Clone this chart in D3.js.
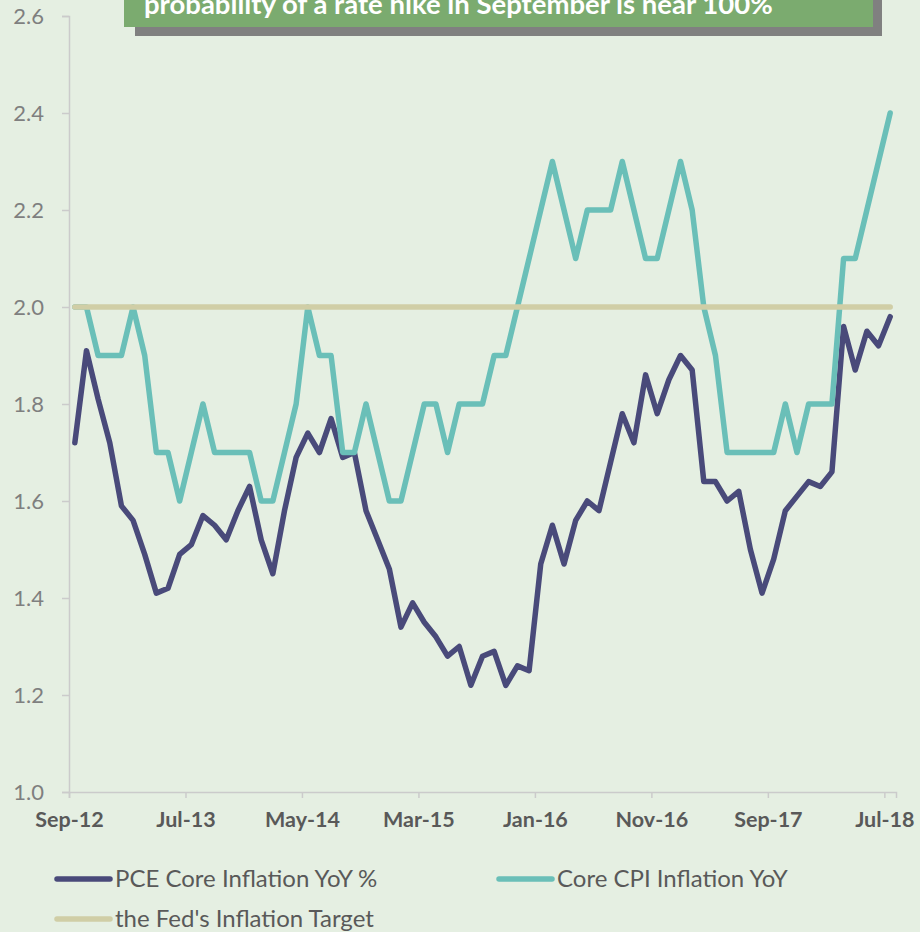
<!DOCTYPE html>
<html>
<head>
<meta charset="utf-8">
<script src="https://cdn.jsdelivr.net/npm/d3@7"></script>
<style>
    body { margin: 0; background: #e5efe2; }
    svg { display: block; }
</style>
</head>
<body>
<svg width="920" height="932"></svg>
<script>
// Month labels shown on the x axis (every 10th month from Sep-12)
var tickLabels = ["Sep-12", "Jul-13", "May-14", "Mar-15", "Jan-16", "Nov-16", "Sep-17", "Jul-18"];
var yTicks = [1.0, 1.2, 1.4, 1.6, 1.8, 2.0, 2.2, 2.4, 2.6];

// Monthly values Sep-12 .. Jul-18 (71 months)
var pceCore = [1.72, 1.91, 1.81, 1.72, 1.59, 1.56, 1.49, 1.41, 1.42, 1.49,
    1.51, 1.57, 1.55, 1.52, 1.58, 1.63, 1.52, 1.45, 1.58, 1.69,
    1.74, 1.70, 1.77, 1.69, 1.70, 1.58, 1.52, 1.46, 1.34, 1.39,
    1.35, 1.32, 1.28, 1.30, 1.22, 1.28, 1.29, 1.22, 1.26, 1.25,
    1.47, 1.55, 1.47, 1.56, 1.60, 1.58, 1.68, 1.78, 1.72, 1.86,
    1.78, 1.85, 1.90, 1.87, 1.64, 1.64, 1.60, 1.62, 1.50, 1.41,
    1.48, 1.58, 1.61, 1.64, 1.63, 1.66, 1.96, 1.87, 1.95, 1.92,
    1.98];
var coreCpi = [2.0, 2.0, 1.9, 1.9, 1.9, 2.0, 1.9, 1.7, 1.7, 1.6,
    1.7, 1.8, 1.7, 1.7, 1.7, 1.7, 1.6, 1.6, 1.7, 1.8,
    2.0, 1.9, 1.9, 1.7, 1.7, 1.8, 1.7, 1.6, 1.6, 1.7,
    1.8, 1.8, 1.7, 1.8, 1.8, 1.8, 1.9, 1.9, 2.0, 2.1,
    2.2, 2.3, 2.2, 2.1, 2.2, 2.2, 2.2, 2.3, 2.2, 2.1,
    2.1, 2.2, 2.3, 2.2, 2.0, 1.9, 1.7, 1.7, 1.7, 1.7,
    1.7, 1.8, 1.7, 1.8, 1.8, 1.8, 2.1, 2.1, 2.2, 2.3,
    2.4];
var fedTarget = coreCpi.map(function() { return 2.0; });

var seriesNames = ["PCE Core Inflation YoY %", "Core CPI Inflation YoY", "the Fed's Inflation Target"];
var seriesColors = ["#494a7a", "#6abfb8", "#d0cea6"];
var titleText = "probability of a rate hike in September is near 100%";

var svg = d3.select('svg');

// Background
svg.append('rect')
    .attr('width', 920)
    .attr('height', 932)
    .attr('fill', '#e5efe2');

var xScale = d3.scaleLinear().domain([0, 71]).range([69, 896]);
var yScale = d3.scaleLinear().domain([1.0, 2.6]).range([792, 16]);

// Y axis
var yAxisG = svg.append('g')
    .attr('transform', 'translate(69,0)')
    .call(d3.axisLeft(yScale)
        .tickValues(yTicks)
        .tickSize(7)
        .tickPadding(18)
        .tickFormat(d3.format('.1f')));

// X axis (ticks every 10 months)
var xAxisG = svg.append('g')
    .attr('transform', 'translate(0,792)')
    .call(d3.axisBottom(xScale)
        .tickValues(d3.range(0, 71, 10))
        .tickSize(6)
        .tickPadding(14)
        .tickFormat(function(d, i) { return tickLabels[i]; }));

svg.selectAll('.domain, .tick line')
    .attr('stroke', '#cbcbcb')
    .attr('stroke-width', 1.5);
yAxisG.selectAll('text')
    .style('font-family', 'Lato, sans-serif')
    .style('font-size', '22px')
    .attr('fill', '#7f7f7f');
xAxisG.selectAll('text')
    .style('font-family', 'Lato, sans-serif')
    .style('font-size', '21.5px')
    .style('font-weight', 'bold')
    .attr('fill', '#595959');

// Lines
var line = d3.line()
    .x(function(d, i) { return xScale(i + 0.5); })
    .y(function(d) { return yScale(d); });

[pceCore, coreCpi, fedTarget].forEach(function(values, k) {
    svg.append('path')
        .datum(values)
        .attr('fill', 'none')
        .attr('stroke', seriesColors[k])
        .attr('stroke-width', 5.5)
        .attr('stroke-linejoin', 'round')
        .attr('stroke-linecap', 'round')
        .attr('d', line);
});

// Title box at top (cut off by the frame, as in the original)
svg.append('rect')
    .attr('x', 135).attr('y', -40)
    .attr('width', 747).attr('height', 76)
    .attr('fill', '#808080');
svg.append('rect')
    .attr('x', 124).attr('y', -40)
    .attr('width', 749).attr('height', 67)
    .attr('fill', '#7bab6f');
svg.append('text')
    .attr('x', 144).attr('y', 14)
    .style('font-family', 'Lato, sans-serif')
    .style('font-size', '27.5px')
    .style('font-weight', 'bold')
    .attr('fill', '#ffffff')
    .text(titleText);

// Legend
var legendPos = [[57, 879], [499, 879], [57, 919]];
var legendG = svg.selectAll('.legend')
    .data(seriesNames)
    .enter()
    .append('g')
    .attr('class', 'legend')
    .attr('transform', function(d, i) { return 'translate(' + legendPos[i] + ')'; });

legendG.append('line')
    .attr('x1', 0).attr('x2', 53)
    .attr('stroke', function(d, i) { return seriesColors[i]; })
    .attr('stroke-width', 5.5)
    .attr('stroke-linecap', 'round');

legendG.append('text')
    .attr('x', 58)
    .attr('dy', '0.35em')
    .style('font-family', 'Lato, sans-serif')
    .style('font-size', '24px')
    .attr('fill', '#595959')
    .text(function(d) { return d; });
</script>
</body>
</html>
